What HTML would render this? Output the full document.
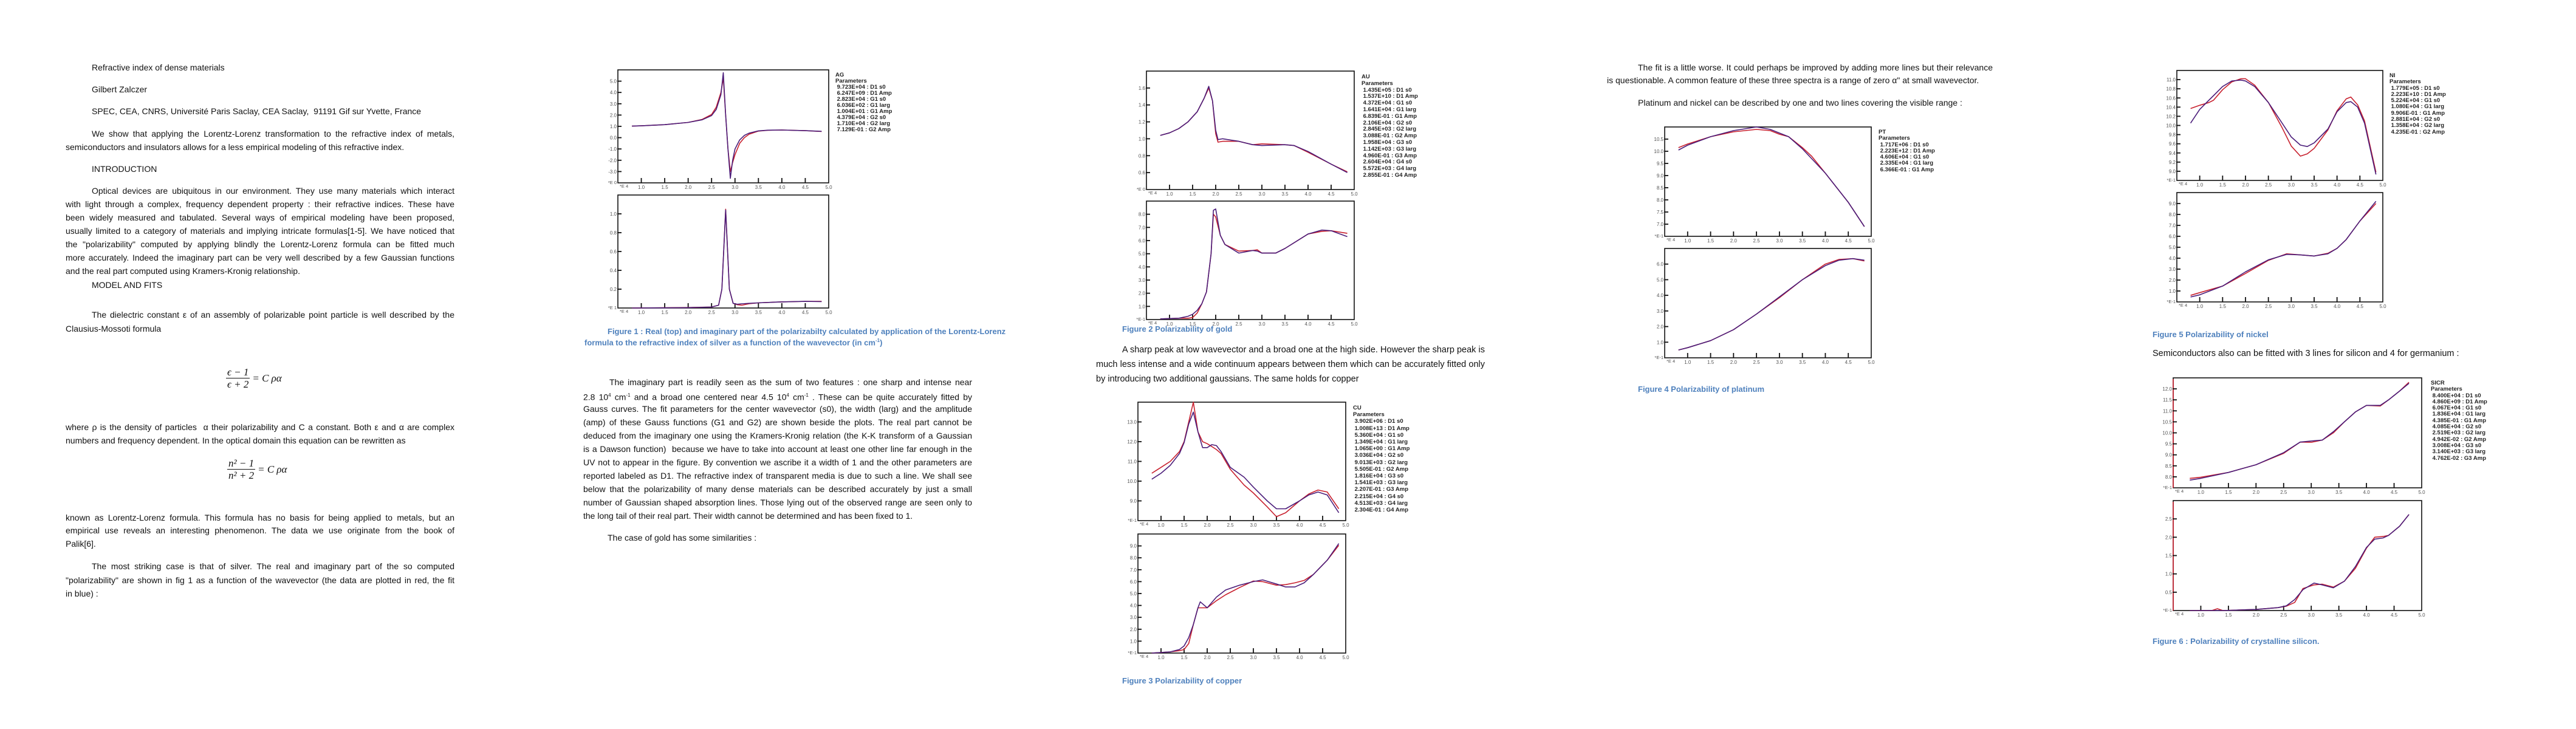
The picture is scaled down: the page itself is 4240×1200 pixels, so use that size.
<!DOCTYPE html>
<html><head><meta charset="utf-8">
<style>
html,body{margin:0;padding:0;background:#fff;}
body{width:4240px;height:1200px;position:relative;overflow:hidden;font-family:"Liberation Sans",sans-serif;color:#111;}
.l{position:absolute;white-space:nowrap;font-size:14px;line-height:16px;}
.j{text-align:justify;text-align-last:justify;}
.cap{position:absolute;white-space:nowrap;font-size:13px;font-weight:bold;color:#4f81bd;line-height:15px;}
.eq{position:absolute;font-family:"Liberation Serif",serif;font-style:italic;font-size:17px;display:flex;align-items:center;}
.fr{display:inline-flex;flex-direction:column;align-items:center;margin-right:4px;}
.fr span{padding:0 2px;line-height:19px;}
.fr .num{border-bottom:1.3px solid #111;}
.leg{position:absolute;font-family:"Liberation Sans",sans-serif;font-weight:bold;font-size:9.5px;color:#222;white-space:pre;}
svg{position:absolute;left:0;top:0;}
</style></head><body>

<!-- PAGE 1 -->
<div>
<div class="l" style="left:151px;top:103px;">Refractive index of dense materials</div>
<div class="l" style="left:151px;top:139px;">Gilbert Zalczer</div>
<div class="l" style="left:151px;top:175px;">SPEC, CEA, CNRS, Université Paris Saclay, CEA Saclay,&nbsp; 91191 Gif sur Yvette, France</div>
<div class="l j" style="left:151px;width:597px;top:212px;">We show that applying the Lorentz-Lorenz transformation to the refractive index of metals,</div>
<div class="l" style="left:108px;top:234px;">semiconductors and insulators allows for a less empirical modeling of this refractive index.</div>
<div class="l" style="left:151px;top:270px;">INTRODUCTION</div>
<div class="l j" style="left:151px;width:597px;top:306px;">Optical devices are ubiquitous in our environment. They use many materials which interact</div>
<div class="l j" style="left:108px;width:640px;top:328px;">with light through a complex, frequency dependent property : their refractive indices. These have</div>
<div class="l j" style="left:108px;width:640px;top:350px;">been widely measured and tabulated. Several ways of empirical modeling have been proposed,</div>
<div class="l j" style="left:108px;width:640px;top:372px;">usually limited to a category of materials and implying intricate formulas[1-5]. We have noticed that</div>
<div class="l j" style="left:108px;width:640px;top:394px;">the "polarizability" computed by applying blindly the Lorentz-Lorenz formula can be fitted much</div>
<div class="l j" style="left:108px;width:640px;top:416px;">more accurately. Indeed the imaginary part can be very well described by a few Gaussian functions</div>
<div class="l" style="left:108px;top:438px;">and the real part computed using Kramers-Kronig relationship.</div>
<div class="l" style="left:151px;top:461px;">MODEL AND FITS</div>
<div class="l j" style="left:151px;width:597px;top:510px;">The dielectric constant ε of an assembly of polarizable point particle is well described by the</div>
<div class="l" style="left:108px;top:533px;">Clausius-Mossoti formula</div>
<div class="eq" style="left:372px;top:603px;"><span class="fr"><span class="num">ϵ − 1</span><span>ϵ + 2</span></span><span>= <i>C ρα</i></span></div>
<div class="l j" style="left:108px;width:640px;top:695px;">where ρ is the density of particles&nbsp; α their polarizability and C a constant. Both ε and α are complex</div>
<div class="l" style="left:108px;top:717px;">numbers and frequency dependent. In the optical domain this equation can be rewritten as</div>
<div class="eq" style="left:374px;top:753px;"><span class="fr"><span class="num">n² − 1</span><span>n² + 2</span></span><span>= <i>C ρα</i></span></div>
<div class="l j" style="left:108px;width:640px;top:844px;">known as Lorentz-Lorenz formula. This formula has no basis for being applied to metals, but an</div>
<div class="l j" style="left:108px;width:640px;top:865px;">empirical use reveals an interesting phenomenon. The data we use originate from the book of</div>
<div class="l" style="left:108px;top:887px;">Palik[6].</div>
<div class="l j" style="left:151px;width:597px;top:924px;">The most striking case is that of silver. The real and imaginary part of the so computed</div>
<div class="l j" style="left:108px;width:640px;top:947px;">"polarizability" are shown in fig 1 as a function of the wavevector (the data are plotted in red, the fit</div>
<div class="l" style="left:108px;top:969px;">in blue) :</div>
</div>

<!-- PAGE 2 -->
<div>
<div class="cap j" style="left:1000px;width:600px;top:538px;">Figure 1 : Real (top) and imaginary part of the polarizabilty calculated by application of the Lorentz-Lorenz</div>
<div class="cap" style="left:962px;top:553px;">formula to the refractive index of silver as a function of the wavevector (in cm<sup style="font-size:8px">-1</sup>)</div>
<div class="l j" style="left:1003px;width:597px;top:621px;">The imaginary part is readily seen as the sum of two features : one sharp and intense near</div>
<div class="l j" style="left:960px;width:640px;top:643px;">2.8 10<sup style="font-size:8px">4</sup> cm<sup style="font-size:8px">-1</sup> and a broad one centered near 4.5 10<sup style="font-size:8px">4</sup> cm<sup style="font-size:8px">-1</sup> . These can be quite accurately fitted by</div>
<div class="l j" style="left:960px;width:640px;top:665px;">Gauss curves. The fit parameters for the center wavevector (s0), the width (larg) and the amplitude</div>
<div class="l j" style="left:960px;width:640px;top:687px;">(amp) of these Gauss functions (G1 and G2) are shown beside the plots. The real part cannot be</div>
<div class="l j" style="left:960px;width:640px;top:709px;">deduced from the imaginary one using the Kramers-Kronig relation (the K-K transform of a Gaussian</div>
<div class="l j" style="left:960px;width:640px;top:731px;">is a Dawson function)&nbsp; because we have to take into account at least one other line far enough in the</div>
<div class="l j" style="left:960px;width:640px;top:753px;">UV not to appear in the figure. By convention we ascribe it a width of 1 and the other parameters are</div>
<div class="l j" style="left:960px;width:640px;top:775px;">reported labeled as D1. The refractive index of transparent media is due to such a line. We shall see</div>
<div class="l j" style="left:960px;width:640px;top:797px;">below that the polarizability of many dense materials can be described accurately by just a small</div>
<div class="l j" style="left:960px;width:640px;top:819px;">number of Gaussian shaped absorption lines. Those lying out of the observed range are seen only to</div>
<div class="l" style="left:960px;top:841px;">the long tail of their real part. Their width cannot be determined and has been fixed to 1.</div>
<div class="l" style="left:1000px;top:877px;">The case of gold has some similarities :</div>
</div>

<!-- PAGE 3 -->
<div>
<div class="cap" style="left:1847px;top:534px;">Figure 2 Polarizability of gold</div>
<div class="l j" style="left:1847px;width:597px;top:568px;font-size:14.5px;">A sharp peak at low wavevector and a broad one at the high side. However the sharp peak is</div>
<div class="l j" style="left:1804px;width:640px;top:592px;font-size:14.5px;">much less intense and a wide continuum appears between them which can be accurately fitted only</div>
<div class="l" style="left:1804px;top:616px;font-size:14.5px;">by introducing two additional gaussians. The same holds for copper</div>
<div class="cap" style="left:1847px;top:1113px;">Figure 3 Polarizability of copper</div>
</div>

<!-- PAGE 4 -->
<div>
<div class="l j" style="left:2696px;width:584px;top:103px;">The fit is a little worse. It could perhaps be improved by adding more lines but their relevance</div>
<div class="l" style="left:2645px;top:124px;">is questionable. A common feature of these three spectra is a range of zero α" at small wavevector.</div>
<div class="l" style="left:2696px;top:161px;">Platinum and nickel can be described by one and two lines covering the visible range :</div>
<div class="cap" style="left:2696px;top:633px;">Figure 4 Polarizability of platinum</div>
</div>

<!-- PAGE 5 -->
<div>
<div class="cap" style="left:3543px;top:543px;">Figure 5 Polarizability of nickel</div>
<div class="l" style="left:3543px;top:574px;font-size:14.5px;">Semiconductors also can be fitted with 3 lines for silicon and 4 for germanium :</div>
<div class="cap" style="left:3543px;top:1048px;">Figure 6 : Polarizability of crystalline silicon.</div>
</div>

<!-- legends -->
<div class="leg" style="left:1375px;top:119px;line-height:10px;">AG
Parameters
 9.723E+04 : D1 s0
 6.247E+09 : D1 Amp
 2.823E+04 : G1 s0
 6.036E+02 : G1 larg
 1.004E+01 : G1 Amp
 4.379E+04 : G2 s0
 1.710E+04 : G2 larg
 7.129E-01 : G2 Amp</div>
<div class="leg" style="left:2241px;top:122px;line-height:10.8px;">AU
Parameters
 1.435E+05 : D1 s0
 1.537E+10 : D1 Amp
 4.372E+04 : G1 s0
 1.641E+04 : G1 larg
 6.839E-01 : G1 Amp
 2.106E+04 : G2 s0
 2.845E+03 : G2 larg
 3.088E-01 : G2 Amp
 1.958E+04 : G3 s0
 1.142E+03 : G3 larg
 4.960E-01 : G3 Amp
 2.604E+04 : G4 s0
 5.572E+03 : G4 larg
 2.855E-01 : G4 Amp</div>
<div class="leg" style="left:2227px;top:666px;line-height:11.2px;">CU
Parameters
 3.902E+06 : D1 s0
 1.008E+13 : D1 Amp
 5.360E+04 : G1 s0
 1.349E+04 : G1 larg
 1.065E+00 : G1 Amp
 3.036E+04 : G2 s0
 9.013E+03 : G2 larg
 5.505E-01 : G2 Amp
 1.816E+04 : G3 s0
 1.541E+03 : G3 larg
 2.207E-01 : G3 Amp
 2.215E+04 : G4 s0
 4.513E+03 : G4 larg
 2.304E-01 : G4 Amp</div>
<div class="leg" style="left:3092px;top:213px;line-height:10.3px;">PT
Parameters
 1.717E+06 : D1 s0
 2.223E+12 : D1 Amp
 4.606E+04 : G1 s0
 2.335E+04 : G1 larg
 6.366E-01 : G1 Amp</div>
<div class="leg" style="left:3933px;top:120px;line-height:10.3px;">NI
Parameters
 1.779E+05 : D1 s0
 2.223E+10 : D1 Amp
 5.224E+04 : G1 s0
 1.080E+04 : G1 larg
 9.906E-01 : G1 Amp
 2.881E+04 : G2 s0
 1.358E+04 : G2 larg
 4.235E-01 : G2 Amp</div>
<div class="leg" style="left:4001px;top:626px;line-height:10.3px;">SICR
Parameters
 8.400E+04 : D1 s0
 4.860E+09 : D1 Amp
 6.067E+04 : G1 s0
 1.836E+04 : G1 larg
 4.385E-01 : G1 Amp
 4.085E+04 : G2 s0
 2.519E+03 : G2 larg
 4.942E-02 : G2 Amp
 3.008E+04 : G3 s0
 3.140E+03 : G3 larg
 4.762E-02 : G3 Amp</div>

<svg id="charts" width="4240" height="1200"></svg>

<script>
// x tick labels shared by all plots (wavevector, x1e4 cm-1)
const xTickVals = [1.0,1.5,2.0,2.5,3.0,3.5,4.0,4.5,5.0];
const xTickLabels = ["1.0","1.5","2.0","2.5","3.0","3.5","4.0","4.5","5.0"];

// Silver real
const agReX    = [0.8,1.0,1.5,2.0,2.3,2.5,2.6,2.7,2.75,2.8,2.85,2.9,2.95,3.0,3.1,3.2,3.3,3.5,3.7,4.0,4.5,4.85];
const agReData = [1.02,1.05,1.15,1.35,1.62,2.05,2.7,4.0,5.3,2.0,-1.0,-3.0,-2.2,-1.5,-0.5,0.0,0.3,0.58,0.65,0.68,0.62,0.55];
const agReFit  = [1.02,1.05,1.15,1.35,1.58,1.95,2.5,3.8,5.75,2.0,-1.0,-3.6,-2.0,-1.0,-0.2,0.2,0.4,0.6,0.66,0.68,0.62,0.56];
const agReTicks = [5,4,3,2,1,0,-1,-2,-3];
const agReTickLabels = ["5.0","4.0","3.0","2.0","1.0","0.0","-1.0","-2.0","-3.0"];
// Silver imaginary
const agImX    = [0.8,1.5,2.0,2.5,2.65,2.72,2.8,2.88,2.96,3.05,3.15,3.3,3.5,4.0,4.5,4.85];
const agImData = [0.0,0.003,0.005,0.01,0.03,0.2,1.05,0.2,0.05,0.035,0.03,0.045,0.055,0.065,0.07,0.07];
const agImFit  = [0.0,0.002,0.004,0.01,0.03,0.2,1.04,0.2,0.05,0.04,0.045,0.05,0.055,0.065,0.07,0.068];
const agImTicks = [1.0,0.8,0.6,0.4,0.2];
const agImTickLabels = ["1.0","0.8","0.6","0.4","0.2"];

// Gold real
const auReX    = [0.8,1.0,1.2,1.4,1.6,1.75,1.85,1.93,2.0,2.05,2.15,2.5,2.8,3.0,3.5,3.7,4.0,4.5,4.85];
const auReData = [1.04,1.07,1.12,1.2,1.32,1.48,1.6,1.45,1.06,0.96,0.97,0.97,0.93,0.94,0.93,0.92,0.84,0.7,0.61];
const auReFit  = [1.04,1.07,1.12,1.2,1.32,1.48,1.62,1.45,1.1,0.99,1.0,0.97,0.93,0.92,0.93,0.92,0.85,0.7,0.6];
const auReTicks = [1.6,1.4,1.2,1.0,0.8,0.6];
const auReTickLabels = ["1.6","1.4","1.2","1.0","0.8","0.6"];
// Gold imaginary
const auImX    = [0.8,1.2,1.4,1.5,1.6,1.7,1.8,1.9,1.95,2.0,2.1,2.2,2.5,2.8,2.9,3.0,3.3,3.5,4.0,4.3,4.5,4.85];
const auImData = [0.05,0.1,0.1,0.15,0.5,1.2,2.1,5.0,8.0,7.8,6.4,5.7,5.2,5.25,5.3,5.05,5.05,5.4,6.5,6.7,6.75,6.55];
const auImFit  = [0.05,0.1,0.25,0.4,0.7,1.2,2.1,5.0,8.3,8.4,6.4,5.7,5.05,5.25,5.2,5.05,5.05,5.4,6.5,6.8,6.75,6.3];
const auImTicks = [8,7,6,5,4,3,2,1];
const auImTickLabels = ["8.0","7.0","6.0","5.0","4.0","3.0","2.0","1.0"];

// Copper real
const cuReX    = [0.8,1.0,1.2,1.4,1.5,1.6,1.7,1.8,1.9,2.0,2.1,2.2,2.3,2.5,2.8,3.0,3.3,3.5,3.7,4.0,4.2,4.4,4.6,4.85];
const cuReData = [10.4,10.7,11.0,11.5,12.0,13.0,14.0,12.5,12.0,11.9,11.75,11.6,11.4,10.6,9.8,9.4,8.7,8.2,8.4,9.0,9.35,9.55,9.45,8.6];
const cuReFit  = [10.1,10.4,10.8,11.4,11.95,12.9,13.5,12.5,11.7,11.7,11.85,11.8,11.5,10.7,10.2,9.7,9.0,8.6,8.6,9.0,9.3,9.45,9.3,8.4];
const cuReTicks = [13,12,11,10,9];
const cuReTickLabels = ["13.0","12.0","11.0","10.0","9.0"];
// Copper imaginary
const cuImX    = [0.8,1.2,1.4,1.5,1.6,1.7,1.8,1.85,2.0,2.2,2.4,2.7,3.0,3.2,3.5,3.7,3.9,4.1,4.3,4.6,4.85];
const cuImData = [0.0,0.1,0.2,0.3,0.8,2.4,3.8,3.8,3.8,4.4,4.9,5.5,6.05,6.0,5.7,5.75,5.9,6.1,6.6,7.8,9.05];
const cuImFit  = [0.0,0.1,0.3,0.6,1.3,2.4,3.8,4.3,3.8,4.7,5.3,5.7,6.0,6.15,5.8,5.55,5.55,5.9,6.6,7.8,9.2];
const cuImTicks = [9,8,7,6,5,4,3,2,1];
const cuImTickLabels = ["9.0","8.0","7.0","6.0","5.0","4.0","3.0","2.0","1.0"];

// Platinum real
const ptReX    = [0.8,1.0,1.5,2.0,2.5,2.8,3.0,3.2,3.5,3.7,4.0,4.5,4.85];
const ptReData = [10.15,10.3,10.6,10.8,10.9,10.85,10.7,10.6,10.15,9.8,9.1,7.9,6.9];
const ptReFit  = [10.05,10.25,10.6,10.85,11.0,10.9,10.75,10.6,10.1,9.7,9.1,7.9,6.9];
const ptReTicks = [10.5,10.0,9.5,9.0,8.5,8.0,7.5,7.0];
const ptReTickLabels = ["10.5","10.0","9.5","9.0","8.5","8.0","7.5","7.0"];
// Platinum imaginary
const ptImX    = [0.8,1.0,1.5,2.0,2.5,3.0,3.5,4.0,4.3,4.6,4.85];
const ptImData = [0.5,0.65,1.1,1.8,2.8,3.85,5.0,6.0,6.3,6.35,6.2];
const ptImFit  = [0.5,0.65,1.1,1.8,2.8,3.9,5.0,5.9,6.25,6.35,6.25];
const ptImTicks = [6,5,4,3,2,1];
const ptImTickLabels = ["6.0","5.0","4.0","3.0","2.0","1.0"];

// Nickel real
const niReX    = [0.8,1.0,1.2,1.3,1.5,1.7,1.9,2.0,2.2,2.5,2.8,3.0,3.2,3.35,3.5,3.8,4.0,4.2,4.3,4.45,4.6,4.85];
const niReData = [10.37,10.44,10.5,10.55,10.78,10.95,11.02,11.02,10.88,10.5,9.95,9.55,9.33,9.38,9.5,9.9,10.32,10.58,10.62,10.45,10.1,8.98];
const niReFit  = [10.05,10.35,10.55,10.65,10.85,10.97,10.99,10.97,10.85,10.5,10.05,9.75,9.57,9.54,9.62,9.92,10.3,10.5,10.52,10.4,10.05,8.93];
const niReTicks = [11.0,10.8,10.6,10.4,10.2,10.0,9.8,9.6,9.4,9.2,9.0];
const niReTickLabels = ["11.0","10.8","10.6","10.4","10.2","10.0","9.8","9.6","9.4","9.2","9.0"];
// Nickel imaginary
const niImX    = [0.8,1.0,1.5,2.0,2.5,2.9,3.2,3.5,3.8,4.0,4.2,4.5,4.85];
const niImData = [0.6,0.85,1.45,2.6,3.8,4.4,4.3,4.2,4.45,4.9,5.7,7.4,9.0];
const niImFit  = [0.45,0.65,1.45,2.75,3.85,4.35,4.3,4.2,4.4,4.9,5.7,7.4,9.2];
const niImTicks = [9,8,7,6,5,4,3,2,1];
const niImTickLabels = ["9.0","8.0","7.0","6.0","5.0","4.0","3.0","2.0","1.0"];

// Silicon real
const siReX    = [0.8,1.0,1.5,2.0,2.5,2.8,3.0,3.2,3.4,3.6,3.8,4.0,4.25,4.4,4.6,4.77];
const siReData = [7.93,7.98,8.2,8.55,9.07,9.58,9.57,9.67,10.0,10.5,10.95,11.25,11.22,11.5,11.9,12.3];
const siReFit  = [7.85,7.93,8.2,8.55,9.1,9.58,9.63,9.67,10.05,10.5,10.95,11.25,11.25,11.5,11.9,12.25];
const siReTicks = [12.0,11.5,11.0,10.5,10.0,9.5,9.0,8.5,8.0];
const siReTickLabels = ["12.0","11.5","11.0","10.5","10.0","9.5","9.0","8.5","8.0"];
// Silicon imaginary
const siImX    = [0.8,1.2,1.3,1.4,2.0,2.4,2.55,2.7,2.85,3.05,3.2,3.4,3.6,3.8,4.0,4.15,4.3,4.4,4.6,4.77];
const siImData = [0.0,0.0,0.05,0.0,0.03,0.08,0.12,0.22,0.6,0.7,0.72,0.64,0.8,1.15,1.7,2.0,2.02,2.05,2.3,2.62];
const siImFit  = [0.0,0.0,0.0,0.0,0.03,0.08,0.13,0.3,0.57,0.75,0.7,0.62,0.8,1.2,1.72,1.95,1.98,2.05,2.3,2.62];
const siImTicks = [2.5,2.0,1.5,1.0,0.5];
const siImTickLabels = ["2.5","2.0","1.5","1.0","0.5"];

const NS = "http://www.w3.org/2000/svg";
const svg = document.getElementById('charts');
function mk(tag, attrs, parent){
  const e = document.createElementNS(NS, tag);
  for (const k in attrs) e.setAttribute(k, attrs[k]);
  (parent||svg).appendChild(e);
  return e;
}
function chart(name, box, ymin, ymax, xs, data, fit, yTicks, yLabels, corner, redAxis){
  const g = mk('g', {});
  
  
  const xmin = 0.5, xmax = 5.0;
  const sx = v => box.x0 + (v - xmin) / (xmax - xmin) * (box.x1 - box.x0);
  const sy = v => box.y1 - (v - ymin) / (ymax - ymin) * (box.y1 - box.y0);
  const frame = mk('rect', {x:box.x0, y:box.y0, width:box.x1-box.x0, height:box.y1-box.y0, fill:'none', stroke:'#111', 'stroke-width':1.6}, g);
  
  
  if (redAxis){
    const ra = mk('line', {x1:box.x0, y1:box.y0+2, x2:box.x0, y2:box.y1, stroke:'#d02030', 'stroke-width':1.6}, g);
    
    
  }
  yTicks.forEach((v, i) => {
    const y = sy(v);
    const t = mk('line', {x1:box.x0-1, y1:y, x2:box.x0+6, y2:y, stroke:'#111', 'stroke-width':1.8}, g);
    
    
    const tx = mk('text', {x:box.x0-2, y:y+3, 'text-anchor':'end', 'font-size':8, fill:'#555', 'font-family':'Liberation Sans, sans-serif'}, g);
    
    
    tx.textContent = yLabels[i];
  });
  xTickVals.forEach((v, i) => {
    const x = sx(v);
    if (v < 5.0){
      const t = mk('line', {x1:x, y1:box.y1, x2:x, y2:box.y1-8, stroke:'#111', 'stroke-width':1.8}, g);
      
      
    }
    const tx = mk('text', {x:x, y:box.y1+10, 'text-anchor':'middle', 'font-size':8, fill:'#555', 'font-family':'Liberation Sans, sans-serif'}, g);
    
    
    tx.textContent = xTickLabels[i];
  });
  const c1 = mk('text', {x:box.x0-2, y:box.y1+2, 'text-anchor':'end', 'font-size':7.5, fill:'#555', 'font-family':'Liberation Sans, sans-serif'}, g);
  
  
  c1.textContent = corner;
  const c2 = mk('text', {x:box.x0+3, y:box.y1+8, 'font-size':7.5, fill:'#555', 'font-family':'Liberation Sans, sans-serif'}, g);
  
  
  c2.textContent = '*E 4';
  const pts = arr => arr.map((v, i) => sx(xs[i]).toFixed(1) + ',' + sy(v).toFixed(1)).join(' ');
  const d = mk('polyline', {points:pts(data), fill:'none', stroke:'#c8202e', 'stroke-width':1.6, 'stroke-linejoin':'round'}, g);
  
  
  const f = mk('polyline', {points:pts(fit), fill:'none', stroke:'#4b1d7a', 'stroke-width':1.6, 'stroke-linejoin':'round'}, g);
  
  
}

chart('silver-real-chart', {x0:1017,x1:1364,y0:115,y1:301}, -4, 6, agReX, agReData, agReFit, agReTicks, agReTickLabels, '*E 0');
chart('silver-imaginary-chart', {x0:1017,x1:1364,y0:321,y1:507}, 0, 1.2, agImX, agImData, agImFit, agImTicks, agImTickLabels, '*E 1');
chart('gold-real-chart', {x0:1887,x1:2229,y0:117,y1:312}, 0.4, 1.8, auReX, auReData, auReFit, auReTicks, auReTickLabels, '*E 0');
chart('gold-imaginary-chart', {x0:1887,x1:2229,y0:331,y1:526}, 0, 9, auImX, auImData, auImFit, auImTicks, auImTickLabels, '*E-1');
chart('copper-real-chart', {x0:1873,x1:2215,y0:662,y1:857}, 8, 14, cuReX, cuReData, cuReFit, cuReTicks, cuReTickLabels, '*E-1');
chart('copper-imaginary-chart', {x0:1873,x1:2215,y0:879,y1:1075}, 0, 10, cuImX, cuImData, cuImFit, cuImTicks, cuImTickLabels, '*E-1');
chart('platinum-real-chart', {x0:2740,x1:3080,y0:209,y1:389}, 6.5, 11, ptReX, ptReData, ptReFit, ptReTicks, ptReTickLabels, '*E-1');
chart('platinum-imaginary-chart', {x0:2740,x1:3080,y0:409,y1:589}, 0, 7, ptImX, ptImData, ptImFit, ptImTicks, ptImTickLabels, '*E-1');
chart('nickel-real-chart', {x0:3583,x1:3922,y0:116,y1:297}, 8.8, 11.2, niReX, niReData, niReFit, niReTicks, niReTickLabels, '*E-1');
chart('nickel-imaginary-chart', {x0:3583,x1:3922,y0:317,y1:497}, 0, 10, niImX, niImData, niImFit, niImTicks, niImTickLabels, '*E-1');
chart('silicon-real-chart', {x0:3577,x1:3986,y0:622,y1:803}, 7.5, 12.5, siReX, siReData, siReFit, siReTicks, siReTickLabels, '*E-1', true);
chart('silicon-imaginary-chart', {x0:3577,x1:3986,y0:824,y1:1005}, 0, 3, siImX, siImData, siImFit, siImTicks, siImTickLabels, '*E-1', true);
</script>
</body></html>
